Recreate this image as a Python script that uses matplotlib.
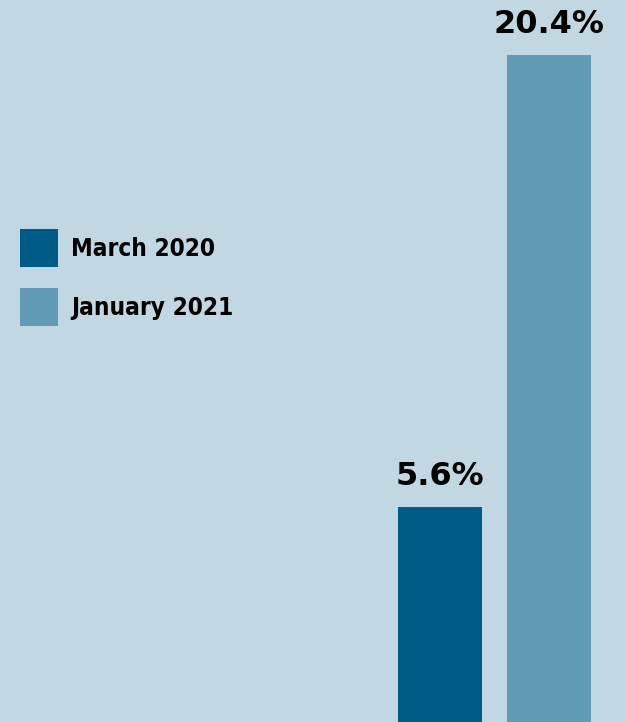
import matplotlib.pyplot as plt
from matplotlib.patches import Patch

# Datos del gráfico
periodos = ['March 2020', 'January 2021']
valores = [5.6, 20.4]
etiquetas = ['5.6%', '20.4%']
colores = ['#005b87', '#619bb6']
fondo = '#c1d7e1'

fig = plt.figure(figsize=(6.26, 7.22), dpi=100)
fig.patch.set_facecolor(fondo)
ax = fig.add_axes([0, 0, 1, 1])
ax.set_facecolor(fondo)

# Escala: las barras llegan hasta el borde inferior
y_min, y_max = -1.44, 22.2
x_pos = [0, 1]
ax.bar(x_pos, [v - y_min for v in valores], bottom=y_min, width=0.77,
       color=colores, zorder=2)

for x, v, t in zip(x_pos, valores, etiquetas):
    ax.text(x, v + 0.5, t, ha='center', va='bottom', fontsize=23,
            fontweight='heavy', family='DejaVu Sans', color='black')

ax.set_xlim(-4.037, 1.706)
ax.set_ylim(y_min, y_max)
ax.axis('off')

# Leyenda
handles = [Patch(facecolor=c, edgecolor='none') for c in colores]
leg = fig.legend(handles, periodos, loc='upper left',
                 bbox_to_anchor=(20 / 626, 1 - 229 / 722),
                 frameon=False, borderpad=0, borderaxespad=0,
                 prop={'family': 'DejaVu Sans', 'weight': 'bold',
                       'size': 17.5, 'stretch': 'condensed'},
                 handlelength=1.56, handleheight=2.04,
                 handletextpad=0.55, labelspacing=0.86)

fig.savefig('out.png', dpi=100, facecolor=fondo)
